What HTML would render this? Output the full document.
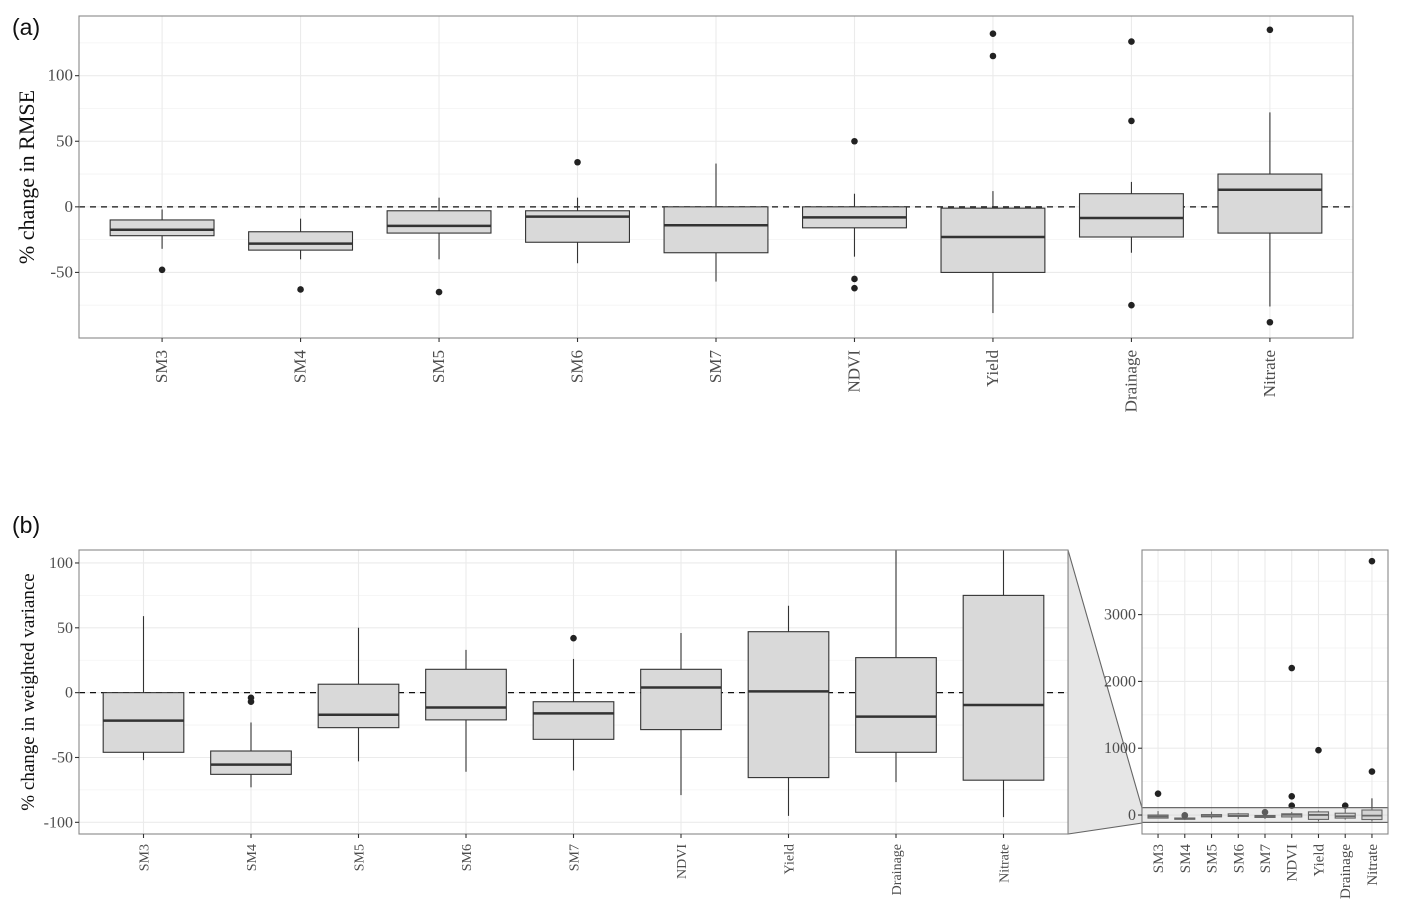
<!DOCTYPE html>
<html><head><meta charset="utf-8"><style>
body{margin:0;background:#fff}
svg{display:block}
text{font-family:"Liberation Serif",serif;fill:#4d4d4d}
</style></head><body>
<svg id="chart" width="1410" height="916" viewBox="0 0 1410 916" xmlns="http://www.w3.org/2000/svg">
<text x="12" y="35" style="font-family:'Liberation Sans',sans-serif;font-size:23px;fill:#111">(a)</text>
<text x="12" y="533" style="font-family:'Liberation Sans',sans-serif;font-size:23px;fill:#111">(b)</text>
</svg>
<script>
const categories = ["SM3","SM4","SM5","SM6","SM7","NDVI","Yield","Drainage","Nitrate"];
// panel a: [lowWhisker, q1, median, q3, highWhisker]
const rmseStats = [
 [-32,-22,-17.5,-10,-2],[-40,-33,-28,-19,-9],[-40,-20,-14.5,-3,7],[-43,-27,-7.5,-3,7],
 [-57,-35,-14,0,33],[-38,-16,-8,0,10],[-81,-50,-23,-1,12],[-35,-23,-8.5,10,19],[-76,-20,13,25,72]];
const rmseOutliers = [[-48],[-63],[-65],[34],[],[50,-55,-62],[132,115],[126,65.5,-75],[135,-88]];
const rmseTicks = [100,50,0,-50];
// panel b
const varStats = [
 [-52,-46,-21.6,0,59],[-73,-63,-55.5,-45,-23],[-53,-27,-17,6.5,50],[-61,-21,-11.5,18,33],
 [-60,-36,-16,-7,26],[-79,-28.5,4,18,46],[-95,-65.5,1,47,67],[-69,-46,-18.5,27,120],[-96,-67.5,-9.5,75,250]];
const varOutliers = [[320],[-4,-7],[],[],[42],[2200,280,140],[970],[140],[3800,650]];
const varTicks = [100,50,0,-50,-100];
const insetTicks = [3000,2000,1000,0];

const NS="http://www.w3.org/2000/svg";
const svg=document.getElementById('chart');
function mk(tag,attrs,parent){const e=document.createElementNS(NS,tag);for(const k in attrs)e.setAttribute(k,attrs[k]);(parent||svg).appendChild(e);return e;}

function panel(o){
  const g=mk('g',{});
  
  
  const y=v=>o.y0-(v-o.ymin)/(o.ymax-o.ymin)*(o.y0-o.y1);
  const step=(o.x1-o.x0)/(categories.length+0.2);
  const x=i=>o.x0+step*(i+0.6);
  mk('rect',{x:o.x0,y:o.y1,width:o.x1-o.x0,height:o.y0-o.y1,fill:'#fff'},g);
  o.ticks.forEach(t=>{
    const ln=mk('line',{x1:o.x0,x2:o.x1,y1:y(t),y2:y(t),stroke:'#ebebeb','stroke-width':1.1},g);
    
    
  });
  const d=o.ticks.length>1?o.ticks[0]-o.ticks[1]:50;
  for(let v=o.ticks[o.ticks.length-1]-d*1.5;v<=o.ymax;v+=d){
    if(v<o.ymin)continue;
    mk('line',{x1:o.x0,x2:o.x1,y1:y(v),y2:y(v),stroke:'#f3f3f3','stroke-width':0.8},g);
  }
  categories.forEach((c,i)=>{mk('line',{x1:x(i),x2:x(i),y1:o.y1,y2:o.y0,stroke:'#ebebeb','stroke-width':1.1},g);});
  const clipId=o.name+'-clip';
  const cp=mk('clipPath',{id:clipId},g);mk('rect',{x:o.x0,y:o.y1,width:o.x1-o.x0,height:o.y0-o.y1},cp);
  const data=mk('g',{'clip-path':'url(#'+clipId+')'},g);
  if(o.dash) mk('line',{x1:o.x0,x2:o.x1,y1:y(0),y2:y(0),stroke:'#111','stroke-width':1.3,'stroke-dasharray':'6,5'},data);
  const bw=step*o.bwf;
  o.stats.forEach((s,i)=>{
    const bg=mk('g',{},data);
    
    
    mk('line',{x1:x(i),x2:x(i),y1:y(s[4]),y2:y(s[0]),stroke:'#333','stroke-width':1.1},bg);
    mk('rect',{x:x(i)-bw/2,y:y(s[3]),width:bw,height:y(s[1])-y(s[3]),fill:'#d9d9d9',stroke:'#333','stroke-width':1.1},bg);
    mk('line',{x1:x(i)-bw/2,x2:x(i)+bw/2,y1:y(s[2]),y2:y(s[2]),stroke:'#333','stroke-width':o.mw},bg);
    o.out[i].forEach(v=>{
      const c=mk('circle',{cx:x(i),cy:y(v),r:o.r,fill:'#222'},bg);
      
      
    });
  });
  if(o.extra) o.extra(g,y,x);
  mk('rect',{x:o.x0,y:o.y1,width:o.x1-o.x0,height:o.y0-o.y1,fill:'none',stroke:'#888','stroke-width':1.1},g);
  o.ticks.forEach(t=>{
    mk('line',{x1:o.x0-4,x2:o.x0,y1:y(t),y2:y(t),stroke:'#333','stroke-width':1.1},g);
    const tx=mk('text',{x:o.x0-6,y:y(t)+5,'text-anchor':'end','font-size':o.fs},g);
    tx.textContent=t;
    
    
  });
  categories.forEach((c,i)=>{
    mk('line',{x1:x(i),x2:x(i),y1:o.y0,y2:o.y0+4,stroke:'#333','stroke-width':1.1},g);
    const ty=o.y0+o.lgap;
    const tx=mk('text',{x:0,y:0,'text-anchor':'end','font-size':o.xfs,transform:`translate(${x(i)+5},${ty}) rotate(-90)`},g);
    tx.textContent=c;
    
    
  });
  if(o.title){
    const tt=mk('text',{x:0,y:0,'text-anchor':'middle','font-size':o.tfs,style:'fill:#111',transform:`translate(${o.tx},${(o.y0+o.y1)/2}) rotate(-90)`},g);
    tt.textContent=o.title;
    
    
  }
  return {y,x};
}

const conn=mk('polygon',{points:'1068,550 1142,808 1142,823 1068,834',fill:'#e6e6e6',stroke:'#666','stroke-width':1.1});



panel({name:'panel-a',x0:79,x1:1353,y0:338,y1:16,ymin:-100,ymax:145.5,ticks:rmseTicks,stats:rmseStats,out:rmseOutliers,
  bwf:0.75,mw:2.5,r:3.3,dash:true,fs:17,xfs:17,lgap:12,title:'% change in RMSE',tfs:22,tx:34});
panel({name:'panel-b',x0:79,x1:1068,y0:834,y1:550,ymin:-109,ymax:110,ticks:varTicks,stats:varStats,out:varOutliers,
  bwf:0.75,mw:2.5,r:3.3,dash:true,fs:16,xfs:14,lgap:10,title:'% change in weighted variance',tfs:19,tx:34});
panel({name:'panel-b-inset',x0:1142,x1:1388,y0:834,y1:550,ymin:-284,ymax:3967,ticks:insetTicks,stats:varStats,out:varOutliers,
  bwf:0.75,mw:1.8,r:3.3,dash:false,fs:16,xfs:15,lgap:10,
  extra:(g,y)=>{const r=mk('rect',{x:1142,y:y(110),width:246,height:y(-110)-y(110),fill:'rgba(200,200,200,0.35)',stroke:'#555','stroke-width':1.1},g);
    
    }});
</script>
</body></html>
